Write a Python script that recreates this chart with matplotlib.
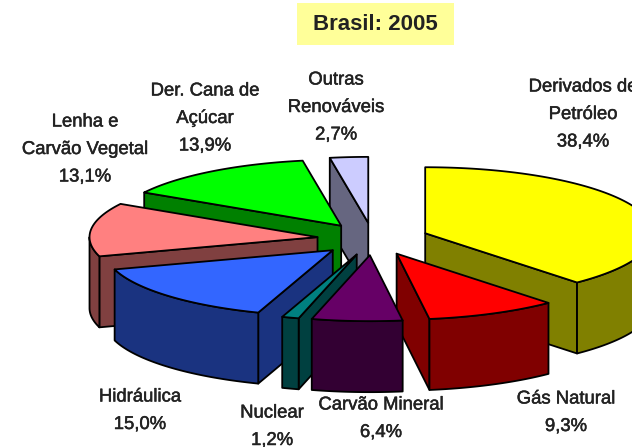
import matplotlib
matplotlib.use("Agg")
import matplotlib.pyplot as plt
import matplotlib.patheffects as pe
import numpy as np

plt.rcParams["font.family"] = ["Liberation Sans", "DejaVu Sans"]

# slices in clockwise order starting from the top
values = [38.4, 9.3, 6.4, 1.2, 15.0, 13.1, 13.9, 2.7]
labels = ["Derivados de\nPetróleo", "Gás Natural", "Carvão Mineral", "Nuclear",
          "Hidráulica", "Lenha e\nCarvão Vegetal", "Der. Cana de\nAçúcar",
          "Outras\nRenováveis"]
top_colors = ["#ffff00", "#ff0000", "#660066", "#008080",
              "#3366ff", "#ff8080", "#00ff00", "#ccccff"]
side_colors = ["#808000", "#800000", "#330033", "#004040",
               "#1a3380", "#804040", "#008000", "#666680"]
label_x = [583, 566, 381, 272, 140, 85, 205, 336]
label_y = [87, 399, 405, 413, 397, 122, 91, 80]

cx, cy = 373, 239
rx, ry = 228, 66
depth = 71
explode = 0.245

fig = plt.figure(figsize=(6.32, 4.47), dpi=100)
ax = fig.add_axes([0, 0, 1, 1])
ax.set_xlim(0, 632)
ax.set_ylim(447, 0)
ax.axis("off")


def arc(a0, a1, ox, oy):
    t = np.radians(np.linspace(a0, a1, max(int(a1 - a0) * 2, 2)))
    return ox + rx * np.sin(t), oy - ry * np.cos(t)


def wall(xs, ys, color, z):
    xs = np.asarray(xs)
    ys = np.asarray(ys)
    ax.fill(np.r_[xs, xs[::-1]], np.r_[ys, ys[::-1] + depth], color=color,
            ec="black", lw=1.3, zorder=z, joinstyle="round")


edges = np.r_[0, np.cumsum(values)] * 3.6
mids = (edges[:-1] + edges[1:]) / 2
order = np.argsort(-np.cos(np.radians(mids)))

for z, i in enumerate(order):
    a0, a1, mid = edges[i], edges[i + 1], np.radians(mids[i])
    ox = cx + explode * rx * np.sin(mid)
    oy = cy - explode * ry * np.cos(mid)
    ax_, ay_ = arc(a0, a1, ox, oy)
    mx = ox + rx * np.sin(mid)
    my = oy - ry * np.cos(mid)

    # flat cut faces, only when they look towards the viewer
    for ex, ey in ((ax_[0], ay_[0]), (ax_[-1], ay_[-1])):
        if abs(ex - ox) < 1:
            continue
        line_y = oy + (ey - oy) * (mx - ox) / (ex - ox)
        if my < line_y:
            wall([ox, ex], [oy, ey], side_colors[i], z * 3)

    # rim, only the front half of the ellipse shows
    lo, hi = max(a0, 90), min(a1, 270)
    if hi > lo:
        wx, wy = arc(lo, hi, ox, oy)
        wall(wx, wy, side_colors[i], z * 3 + 1)

    ax.fill(np.r_[ox, ax_], np.r_[oy, ay_], color=top_colors[i], ec="black",
            lw=1.3, zorder=z * 3 + 2, joinstyle="round")

thick = [pe.withStroke(linewidth=0.35, foreground="#222222")]
for i, name in enumerate(labels):
    lines = name.split("\n") + [f"{values[i]:.1f}%".replace(".", ",")]
    for k, line in enumerate(lines):
        ax.text(label_x[i], label_y[i] + k * 27.5, line, ha="center", va="center",
                fontsize=13.3, color="#222222", zorder=50, clip_on=True,
                path_effects=thick)

ax.fill_between([297, 454], 3, 45, color="#ffff99", lw=0, zorder=40)
ax.text(375.5, 25, "Brasil: 2005", ha="center", va="center", fontsize=16,
        fontweight="bold", color="#222222", zorder=50)

fig.savefig("out.png", dpi=100)
